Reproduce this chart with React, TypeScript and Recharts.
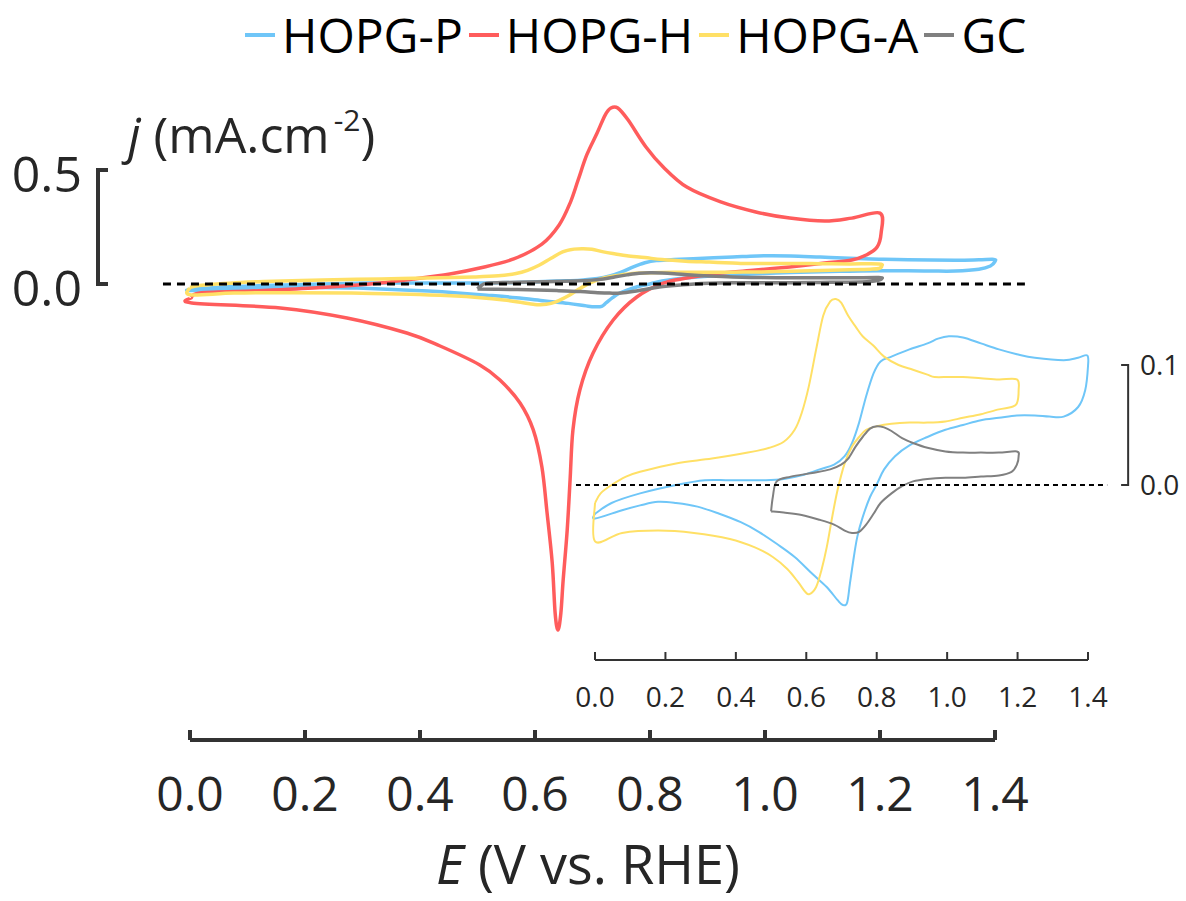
import { LineChart, Line, XAxis, YAxis, ReferenceLine, Legend } from 'recharts'

const FONT = '"Open Sans", "Noto Sans", sans-serif'

// potential (V vs. RHE) and current density (mA/cm2), each loop traced in scan order
const hopgPV = [0.0, 0.047, 0.128, 0.23, 0.312, 0.383, 0.485, 0.536, 0.587, 0.638, 0.679, 0.709, 0.73, 0.75, 0.77, 0.791, 0.811, 0.842, 0.893, 0.944, 0.974, 1.005, 1.045, 1.096, 1.147, 1.198, 1.249, 1.331, 1.372, 1.398, 1.4, 1.392, 1.372, 1.331, 1.29, 1.249, 1.198, 1.147, 1.096, 1.045, 0.995, 0.944, 0.893, 0.852, 0.821, 0.801, 0.781, 0.76, 0.745, 0.735, 0.724, 0.716, 0.704, 0.689, 0.658, 0.617, 0.567, 0.516, 0.465, 0.414, 0.353, 0.291, 0.23, 0.179, 0.128, 0.077, 0.0, 0.0]
const hopgPJ = [-0.024, -0.015, -0.007, 0.0, 0.004, 0.004, 0.004, 0.005, 0.008, 0.013, 0.017, 0.024, 0.035, 0.052, 0.074, 0.093, 0.103, 0.107, 0.113, 0.118, 0.122, 0.124, 0.123, 0.118, 0.113, 0.109, 0.106, 0.104, 0.106, 0.108, 0.099, 0.079, 0.065, 0.057, 0.057, 0.058, 0.058, 0.056, 0.054, 0.05, 0.046, 0.04, 0.033, 0.024, 0.013, 0.001, -0.01, -0.027, -0.043, -0.06, -0.082, -0.098, -0.1, -0.096, -0.085, -0.074, -0.06, -0.049, -0.039, -0.031, -0.024, -0.018, -0.015, -0.014, -0.017, -0.021, -0.028, -0.024]

const hopgHV = [0.002, 0.017, 0.106, 0.214, 0.313, 0.388, 0.452, 0.504, 0.563, 0.612, 0.642, 0.661, 0.675, 0.69, 0.708, 0.722, 0.732, 0.744, 0.762, 0.793, 0.823, 0.864, 0.923, 0.984, 1.043, 1.104, 1.151, 1.2, 1.202, 1.195, 1.176, 1.151, 1.104, 1.043, 0.984, 0.923, 0.864, 0.823, 0.777, 0.736, 0.701, 0.678, 0.666, 0.661, 0.656, 0.649, 0.645, 0.64, 0.635, 0.63, 0.621, 0.612, 0.597, 0.574, 0.539, 0.504, 0.435, 0.377, 0.273, 0.157, 0.003, 0.002]
const hopgHJ = [-0.061, -0.039, -0.031, -0.018, 0.0, 0.022, 0.044, 0.07, 0.11, 0.175, 0.259, 0.355, 0.456, 0.566, 0.662, 0.741, 0.772, 0.772, 0.719, 0.601, 0.513, 0.425, 0.36, 0.316, 0.289, 0.276, 0.289, 0.311, 0.224, 0.162, 0.127, 0.105, 0.092, 0.075, 0.061, 0.048, 0.026, 0.004, -0.057, -0.158, -0.303, -0.465, -0.64, -0.86, -1.079, -1.298, -1.443, -1.518, -1.443, -1.224, -1.004, -0.803, -0.64, -0.522, -0.421, -0.355, -0.272, -0.215, -0.149, -0.105, -0.083, -0.061]

const hopgAV = [0.0, 0.016, 0.047, 0.088, 0.128, 0.23, 0.332, 0.434, 0.495, 0.536, 0.567, 0.587, 0.607, 0.628, 0.648, 0.668, 0.684, 0.699, 0.719, 0.74, 0.76, 0.791, 0.821, 0.862, 0.903, 0.944, 0.964, 1.005, 1.045, 1.096, 1.147, 1.198, 1.203, 1.198, 1.183, 1.147, 1.096, 1.045, 0.995, 0.944, 0.893, 0.842, 0.801, 0.77, 0.75, 0.73, 0.709, 0.689, 0.674, 0.658, 0.643, 0.628, 0.609, 0.597, 0.577, 0.546, 0.505, 0.454, 0.383, 0.281, 0.179, 0.077, 0.0, 0.0]
const hopgAJ = [-0.015, -0.007, 0.0, 0.007, 0.011, 0.018, 0.022, 0.027, 0.031, 0.036, 0.046, 0.06, 0.082, 0.113, 0.141, 0.153, 0.155, 0.152, 0.141, 0.132, 0.124, 0.116, 0.107, 0.1, 0.096, 0.092, 0.09, 0.09, 0.09, 0.089, 0.088, 0.088, 0.079, 0.068, 0.065, 0.063, 0.059, 0.056, 0.053, 0.052, 0.052, 0.051, 0.049, 0.046, 0.04, 0.032, 0.018, -0.004, -0.026, -0.052, -0.071, -0.085, -0.091, -0.089, -0.081, -0.07, -0.06, -0.052, -0.045, -0.04, -0.038, -0.04, -0.047, -0.015]

const gcV = [0.5, 0.505, 0.516, 0.556, 0.617, 0.668, 0.699, 0.719, 0.74, 0.76, 0.781, 0.801, 0.821, 0.842, 0.872, 0.903, 0.944, 0.995, 1.045, 1.096, 1.147, 1.198, 1.203, 1.198, 1.183, 1.147, 1.096, 1.045, 0.995, 0.944, 0.903, 0.872, 0.842, 0.811, 0.791, 0.77, 0.75, 0.73, 0.709, 0.679, 0.638, 0.587, 0.536, 0.5]
const gcJ = [-0.022, -0.01, 0.003, 0.007, 0.01, 0.013, 0.017, 0.022, 0.032, 0.04, 0.047, 0.049, 0.048, 0.045, 0.039, 0.035, 0.031, 0.028, 0.027, 0.027, 0.027, 0.028, 0.024, 0.017, 0.011, 0.008, 0.007, 0.006, 0.006, 0.005, 0.003, -0.001, -0.007, -0.015, -0.024, -0.033, -0.039, -0.04, -0.038, -0.033, -0.029, -0.025, -0.023, -0.022]

const seriesNames = ['HOPG-P', 'HOPG-H', 'HOPG-A', 'GC']
const seriesColors = ['#6fc6f8', '#ff5c5c', '#ffe066', '#808080']

const mainXTicks = [0, 0.2, 0.4, 0.6, 0.8, 1.0, 1.2, 1.4]
const mainYTicks = [0, 0.5]
const insetXTicks = [0, 0.2, 0.4, 0.6, 0.8, 1.0, 1.2, 1.4]
const insetYTicks = [0, 0.1]

const toPoints = (v: number[], j: number[]) => v.map((x, i) => ({ v: x, j: j[i] }))

const pData = toPoints(hopgPV, hopgPJ)
const hData = toPoints(hopgHV, hopgHJ)
const aData = toPoints(hopgAV, hopgAJ)
const gcData = toPoints(gcV, gcJ)

const AXIS = '#333'
const fmt = (v: number) => v.toFixed(1)

// catmull-rom style curve: goes through every point, works for closed CV loops
const smoothLoop = (context: any) => {
  let pts: number[][] = []
  return {
    areaStart() {},
    areaEnd() {},
    lineStart() {
      pts = []
    },
    point(x: number, y: number) {
      pts.push([+x, +y])
    },
    lineEnd() {
      if (!pts.length) return
      context.moveTo(pts[0][0], pts[0][1])
      const n = pts.length
      for (let i = 0; i < n - 1; i++) {
        const p0 = pts[Math.max(i - 1, 0)]
        const p1 = pts[i]
        const p2 = pts[i + 1]
        const p3 = pts[Math.min(i + 2, n - 1)]
        context.bezierCurveTo(
          p1[0] + (p2[0] - p0[0]) / 6,
          p1[1] + (p2[1] - p0[1]) / 6,
          p2[0] - (p3[0] - p1[0]) / 6,
          p2[1] - (p3[1] - p1[1]) / 6,
          p2[0],
          p2[1]
        )
      }
    },
  }
}

const renderLegend = () => (
  <div style={{ display: 'flex', alignItems: 'center', fontFamily: FONT, fontSize: 48, color: '#000' }}>
    {seriesNames.map((name, i) => (
      <div key={name} style={{ display: 'flex', alignItems: 'center', marginRight: 6 }}>
        <span style={{ display: 'inline-block', width: 30, height: 4, background: seriesColors[i], marginRight: 7 }} />
        <span>{name}</span>
      </div>
    ))}
  </div>
)

const xTitle = () => (
  <text x={588} y={884} textAnchor="middle" fontSize={54} fontFamily={FONT} fill="#262626">
    <tspan fontStyle="italic">E</tspan>
    <tspan> (V vs. RHE)</tspan>
  </text>
)

const yTitle = () => (
  <text x={128} y={153} fontSize={50} fontFamily={FONT} fill="#262626">
    <tspan fontStyle="italic">j</tspan>
    <tspan>  (mA.cm</tspan>
    <tspan fontSize={30} dx={4} dy={-22}>-2</tspan>
    <tspan dy={22}>)</tspan>
  </text>
)

export default function App() {
  // bracket positions for the short y-axes (outside the plot area)
  const mainBracketX = -0.16
  const mainTickLen = 0.0174
  const insetBracketX = 1.514
  const insetTickLen = 0.02

  return (
    <div style={{ position: 'relative', width: 1186, height: 901, background: '#fff' }}>
      <style>{'body{margin:0}'}</style>

      <div style={{ position: 'absolute', left: 0, top: 0 }}>
        <LineChart width={1186} height={901} margin={{ top: 56, right: 191, bottom: 101, left: 0 }}>
          <XAxis
            type="number"
            dataKey="v"
            domain={[0, 1.4]}
            ticks={mainXTicks}
            interval={0}
            height={60}
            tickSize={-10}
            tickMargin={47}
            axisLine={{ stroke: AXIS, strokeWidth: 4 }}
            tickLine={{ stroke: AXIS, strokeWidth: 4 }}
            tick={{ fontSize: 48, fill: '#262626', fontFamily: FONT }}
            tickFormatter={fmt}
            label={xTitle}
          />
          <YAxis
            type="number"
            dataKey="j"
            domain={[-2, 1]}
            ticks={mainYTicks}
            interval={0}
            width={190}
            axisLine={false}
            tickLine={false}
            tickSize={0}
            tickMargin={108}
            tick={{ fontSize: 50, fill: '#262626', fontFamily: FONT, dy: 4 }}
            tickFormatter={fmt}
            label={yTitle}
          />
          <Line data={pData} dataKey="j" name={seriesNames[0]} stroke={seriesColors[0]} strokeWidth={3.5} dot={false} type={smoothLoop} isAnimationActive={false} />
          <Line data={hData} dataKey="j" name={seriesNames[1]} stroke={seriesColors[1]} strokeWidth={3.5} dot={false} type={smoothLoop} isAnimationActive={false} />
          <Line data={aData} dataKey="j" name={seriesNames[2]} stroke={seriesColors[2]} strokeWidth={3.5} dot={false} type={smoothLoop} isAnimationActive={false} />
          <Line data={gcData} dataKey="j" name={seriesNames[3]} stroke={seriesColors[3]} strokeWidth={3.5} dot={false} type={smoothLoop} isAnimationActive={false} />
          <ReferenceLine segment={[{ x: -0.047, y: 0 }, { x: 1.452, y: 0 }]} stroke="#000" strokeWidth={3} strokeDasharray="8 6" ifOverflow="visible" />
          <ReferenceLine segment={[{ x: mainBracketX, y: 0 }, { x: mainBracketX, y: 0.5 }]} stroke={AXIS} strokeWidth={4} strokeLinecap="square" ifOverflow="visible" />
          <ReferenceLine segment={[{ x: mainBracketX, y: 0 }, { x: mainBracketX + mainTickLen, y: 0 }]} stroke={AXIS} strokeWidth={4} ifOverflow="visible" />
          <ReferenceLine segment={[{ x: mainBracketX, y: 0.5 }, { x: mainBracketX + mainTickLen, y: 0.5 }]} stroke={AXIS} strokeWidth={4} ifOverflow="visible" />
          <Legend
            layout="horizontal"
            verticalAlign="middle"
            align="center"
            content={renderLegend}
            wrapperStyle={{ top: 2, left: 245, width: 941 }}
          />
        </LineChart>
      </div>

      <div style={{ position: 'absolute', left: 540, top: 230 }}>
        <LineChart width={646} height={500} margin={{ top: 15, right: 0, bottom: 10, left: 55 }}>
          <XAxis
            type="number"
            dataKey="v"
            domain={[0, 1.4]}
            ticks={insetXTicks}
            interval={0}
            height={60}
            tickSize={-8}
            tickMargin={35}
            axisLine={{ stroke: AXIS, strokeWidth: 2 }}
            tickLine={{ stroke: AXIS, strokeWidth: 2 }}
            tick={{ fontSize: 28, fill: '#262626', fontFamily: FONT }}
            tickFormatter={fmt}
          />
          <YAxis
            type="number"
            dataKey="j"
            orientation="right"
            domain={[-0.145833, 0.2]}
            ticks={insetYTicks}
            interval={0}
            width={98}
            axisLine={false}
            tickLine={false}
            tickSize={0}
            tickMargin={52}
            tick={{ fontSize: 28, fill: '#262626', fontFamily: FONT }}
            tickFormatter={fmt}
          />
          <Line data={pData} dataKey="j" stroke={seriesColors[0]} strokeWidth={2} dot={false} type={smoothLoop} isAnimationActive={false} />
          <Line data={aData} dataKey="j" stroke={seriesColors[2]} strokeWidth={2} dot={false} type={smoothLoop} isAnimationActive={false} />
          <Line data={gcData} dataKey="j" stroke={seriesColors[3]} strokeWidth={2} dot={false} type={smoothLoop} isAnimationActive={false} />
          <ReferenceLine segment={[{ x: -0.054, y: 0 }, { x: 1.4545, y: 0 }]} stroke="#000" strokeWidth={2} strokeDasharray="5 4" ifOverflow="visible" />
          <ReferenceLine segment={[{ x: insetBracketX, y: 0 }, { x: insetBracketX, y: 0.1 }]} stroke={AXIS} strokeWidth={2} strokeLinecap="square" ifOverflow="visible" />
          <ReferenceLine segment={[{ x: insetBracketX - insetTickLen, y: 0 }, { x: insetBracketX, y: 0 }]} stroke={AXIS} strokeWidth={2} ifOverflow="visible" />
          <ReferenceLine segment={[{ x: insetBracketX - insetTickLen, y: 0.1 }, { x: insetBracketX, y: 0.1 }]} stroke={AXIS} strokeWidth={2} ifOverflow="visible" />
        </LineChart>
      </div>
    </div>
  )
}
